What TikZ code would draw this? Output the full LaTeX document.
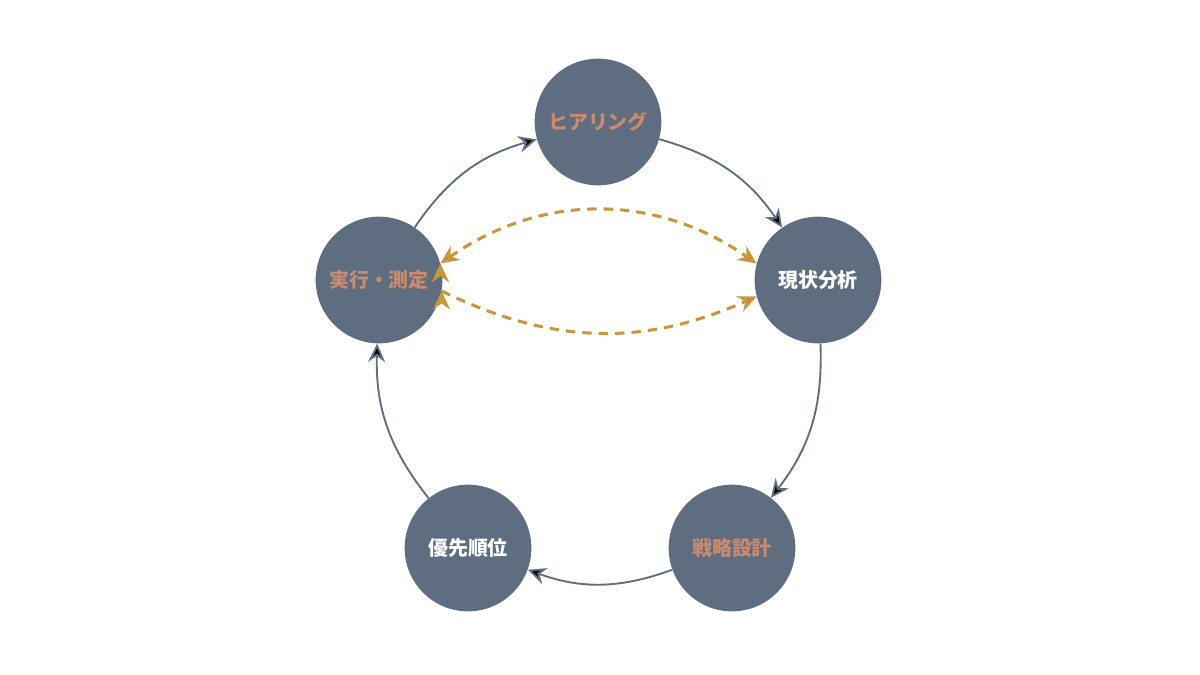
\documentclass[tikz,border=0pt]{standalone}
\usepackage{fontspec}
\newfontfamily\cjk{Noto Sans CJK JP}
\usetikzlibrary{arrows.meta}
\definecolor{stepfill}{HTML}{5E6E80}
\definecolor{steptext}{HTML}{C98A6E}
\definecolor{linkgold}{HTML}{C9973A}

\begin{document}
\begin{tikzpicture}[x=0.03cm,y=-0.03cm,>={Stealth[length=0.55cm,width=0.5cm]}]
  \tikzset{phase/.style= {circle, fill=stepfill, minimum size=3.8cm,
      inner sep=0pt, font=\cjk\bfseries\fontsize{17}{20}\selectfont},
    flow/.style= {draw=stepfill, line width=1.6pt, ->},
    link/.style= {draw=linkgold, line width=2.6pt, dash pattern=on 8pt off 6pt}}
  \useasboundingbox (0,0) rectangle (1200,675);
  \node[phase, text=steptext] (hearing) at (598,122) {ヒアリング};
  \node[phase, text=white] (analysis) at (818,280) {現状分析};
  \node[phase, text=steptext] (strategy) at (732,548) {戦略設計};
  \node[phase, text=white] (priority) at (468,548) {優先順位};
  \node[phase, text=steptext] (execute) at (379,280) {実行・測定};

  \path[flow] (hearing) edge[bend left=20] (analysis);
  \path[flow] (analysis) edge[bend left=20] (strategy);
  \path[flow] (strategy) edge[bend left=20] (priority);
  \path[flow] (priority) edge[bend left=20] (execute);
  \path[flow] (execute) edge[bend left=20] (hearing);

  \path[link, <->] (execute.15) edge[bend left=35] (analysis.165);
  \path[link, ->] (execute.-10) edge[bend right=25] (analysis.195);
\end{tikzpicture}
\end{document}
